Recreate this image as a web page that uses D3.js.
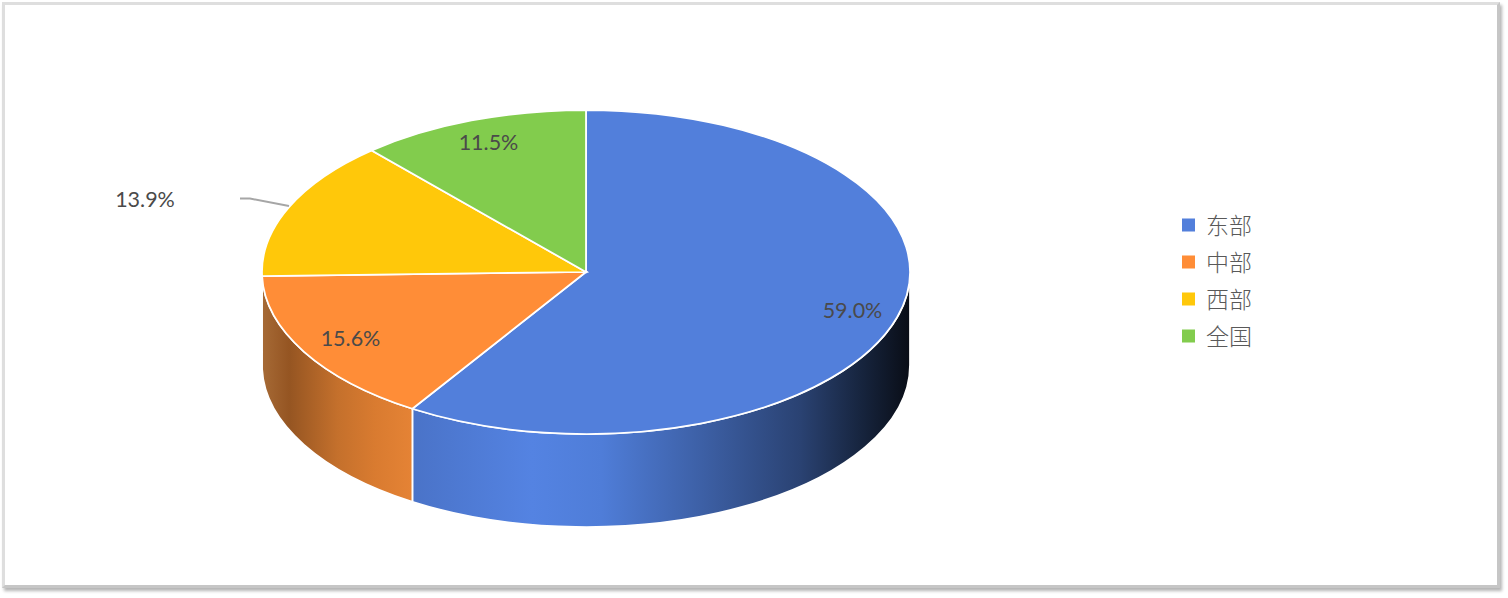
<!DOCTYPE html>
<html>
    <head>
        <meta charset="utf-8">
        <style>
         body {
             margin: 0;
             background-color: #ffffff;
         }
         #frame {
             position: absolute;
             left: 2px;
             top: 2px;
             width: 1492px;
             height: 580px;
             border: 3px solid #dedede;
             border-right-color: #c6c6c6;
             border-bottom-color: #c6c6c6;
             box-shadow: 2px 3px 3px #b5b5b5;
         }
         svg {
             position: absolute;
             left: 0;
             top: 0;
         }
         .pct {
             font-family: Lato, "Open Sans", sans-serif;
             font-size: 21.5px;
             fill: #4a4a4a;
             text-anchor: middle;
             dominant-baseline: central;
         }
         .legend-text {
             font-family: "Noto Sans CJK SC", sans-serif;
             font-size: 23px;
             font-weight: 300;
             fill: #595959;
             dominant-baseline: central;
         }
        </style>
        <script src="https://d3js.org/d3.v7.min.js"></script>
    </head>
    <body>
        <div id="frame"></div>
        <svg id="chart" width="1508" height="598"></svg>
        <script>
         var categories = ["东部", "中部", "西部", "全国"];
         var shares = [59.0, 15.6, 13.9, 11.5];
         var colors = ["#527fdb", "#ff8d37", "#ffc80a", "#82cc4d"];

         // side wall shading, left to right
         var wallStops = [
             [[0, "#4a73c8"], [0.24, "#5483e2"], [0.38, "#4f7dd8"], [0.58, "#3d60a6"], [0.78, "#2a4272"], [0.9, "#17253f"], [1, "#090d16"]],
             [[0, "#a66a36"], [0.18, "#955522"], [0.5, "#c4702c"], [0.75, "#d97b30"], [1, "#e58335"]]
         ];

         var cx = 586, cy = 272, rx = 324, ry = 162, depth = 93;

         var svg = d3.select("#chart");
         var defs = svg.append("defs");

         var pie = d3.pie().sort(null).value(function(d) { return d; });
         var arcs = pie(shares);

         var arc = d3.arc().innerRadius(0).outerRadius(rx);

         function px(a) { return cx + rx * Math.sin(a); }
         function py(a) { return cy - ry * Math.cos(a); }

         // walls: only the part of the rim facing the viewer
         var walls = arcs.map(function(d, i) {
             return {
                 index: i,
                 a0: Math.max(d.startAngle, Math.PI / 2),
                 a1: Math.min(d.endAngle, 3 * Math.PI / 2)
             };
         }).filter(function(d) { return d.a1 > d.a0 && wallStops[d.index]; });

         walls.forEach(function(w) {
             var g = defs.append("linearGradient")
                         .attr("id", "wall" + w.index)
                         .attr("gradientUnits", "userSpaceOnUse")
                         .attr("x1", px(w.a1)).attr("x2", px(w.a0))
                         .attr("y1", 0).attr("y2", 0);
             g.selectAll("stop")
              .data(wallStops[w.index])
              .enter().append("stop")
              .attr("offset", function(s) { return s[0]; })
              .attr("stop-color", function(s) { return s[1]; });
         });

         svg.selectAll(".wall")
            .data(walls)
            .enter().append("path")
            .attr("class", "wall")
            .attr("fill", function(d) { return "url(#wall" + d.index + ")"; })
            .attr("stroke", "#ffffff")
            .attr("stroke-width", 1.75)
            .attr("d", function(d) {
                return "M" + px(d.a0) + "," + py(d.a0) +
                       "A" + rx + "," + ry + " 0 0 1 " + px(d.a1) + "," + py(d.a1) +
                       "V" + (py(d.a1) + depth) +
                       "A" + rx + "," + ry + " 0 0 0 " + px(d.a0) + "," + (py(d.a0) + depth) + "Z";
            });

         svg.append("g")
            .attr("transform", "translate(" + cx + "," + cy + ") scale(1," + (ry / rx) + ")")
            .selectAll(".slice")
            .data(arcs)
            .enter().append("path")
            .attr("class", "slice")
            .attr("d", arc)
            .attr("fill", function(d, i) { return colors[i]; })
            .attr("stroke", "#ffffff")
            .attr("stroke-width", 1.75)
            .attr("vector-effect", "non-scaling-stroke");

         // leader line for the outside label
         svg.append("path")
            .attr("d", d3.line()([[240, 198.5], [250, 198.5], [289, 206]]))
            .attr("fill", "none")
            .attr("stroke", "#a6a6a6")
            .attr("stroke-width", 2);

         var labelX = [852.5, 350.5, 145, 488.5];
         var labelY = [309.5, 337.5, 198.5, 141.5];

         svg.selectAll(".pct")
            .data(shares)
            .enter().append("text")
            .attr("class", "pct")
            .attr("x", function(d, i) { return labelX[i]; })
            .attr("y", function(d, i) { return labelY[i]; })
            .text(function(d) { return d.toFixed(1) + "%"; });

         var legendY = d3.scalePoint().domain(categories).range([225, 336]);

         var legend = svg.selectAll(".legend")
                         .data(categories)
                         .enter().append("g")
                         .attr("class", "legend")
                         .attr("transform", function(d) { return "translate(1182," + legendY(d) + ")"; });

         legend.append("rect")
               .attr("x", 0).attr("y", -6.5)
               .attr("width", 13).attr("height", 13)
               .attr("fill", function(d, i) { return colors[i]; });

         legend.append("text")
               .attr("class", "legend-text")
               .attr("x", 24)
               .attr("y", -1.5)
               .text(function(d) { return d; });
        </script>
    </body>
</html>
